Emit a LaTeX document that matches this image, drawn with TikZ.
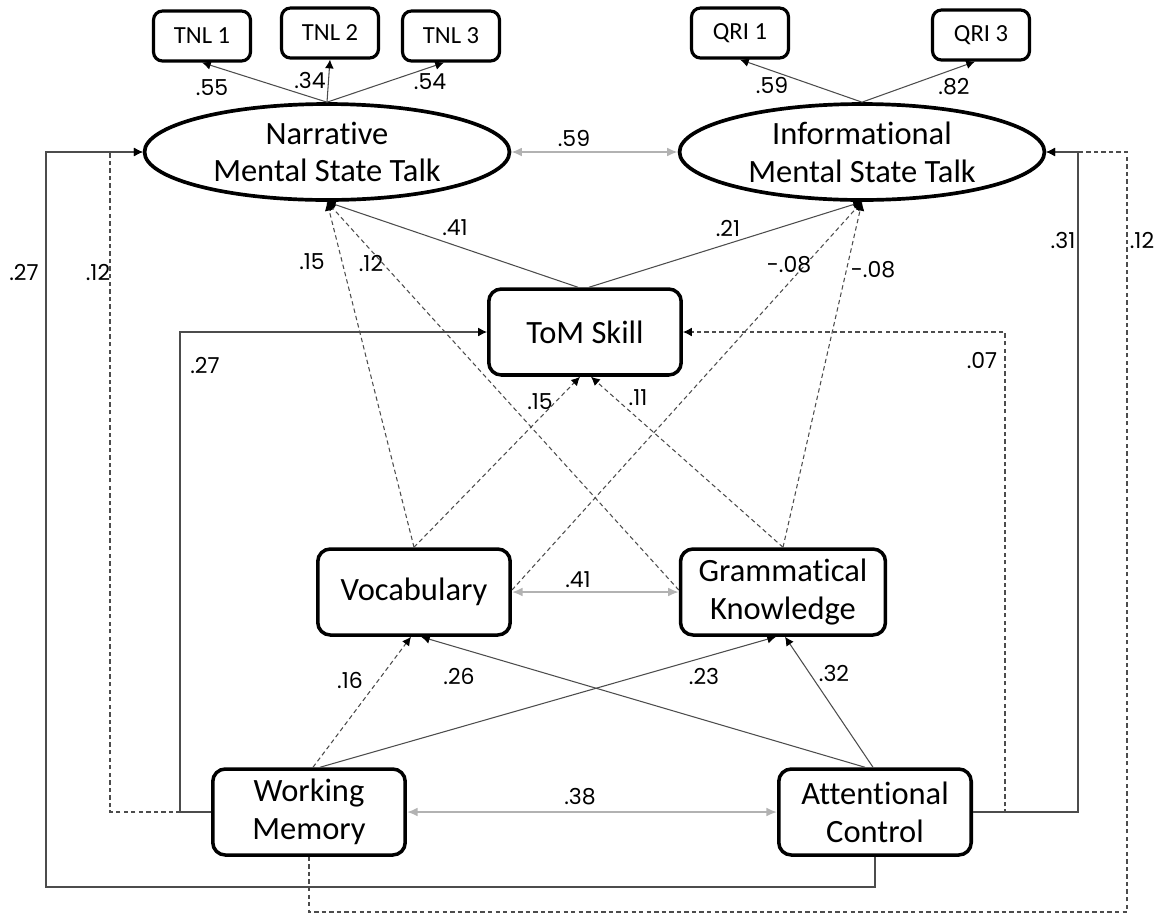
\documentclass[tikz,border=0pt]{standalone}
\usepackage{xcolor}
\usepackage{fontspec}
\setmainfont{Carlito}[Ligatures=NoCommon]
\newfontfamily\numfont{Poppins}
\usepackage{tikz}
\usetikzlibrary{shapes.geometric,arrows.meta}

\tikzset{
  latent/.style={draw, ellipse, line width=2.1pt, minimum width=7.3cm, minimum height=1.92cm, inner sep=0pt, align=center, font=\fontsize{18.5}{21.5}\selectfont},
  obsbox/.style={draw, rounded corners=0.25cm, line width=2pt, minimum width=3.85cm, minimum height=1.72cm, align=center, font=\fontsize{18.5}{21.5}\selectfont},
  itembox/.style={draw, rounded corners=0.18cm, line width=1.8pt, minimum width=1.94cm, minimum height=1.0cm, font=\fontsize{14}{16}\selectfont},
  coef/.style={font=\numfont\fontsize{12.5}{14}\selectfont, inner sep=1pt},
  solidpath/.style={draw=black!70, line width=0.6pt, -{Latex[length=5pt,width=5pt,color=black]}},
  dashpath/.style={solidpath, dash pattern=on 2.5pt off 1.8pt},
  covpath/.style={draw=black!30, line width=1pt, {Latex[length=6pt,width=5pt]}-{Latex[length=6pt,width=5pt]}}
}

\begin{document}
\begin{tikzpicture}[x=0.02cm, y=-0.02cm]
\useasboundingbox (0,0) rectangle (1176,914);

\node[itembox] (tnl1) at (202,36) {TNL 1};
\node[itembox] (tnl2) at (330,33) {TNL 2};
\node[itembox] (tnl3) at (451,36) {TNL 3};
\node[itembox] (qri1) at (740,33) {QRI 1};
\node[itembox] (qri3) at (981,35) {QRI 3};

\node[latent] (nmst) at (327,152) {Narrative\\Mental State Talk};
\node[latent] (imst) at (862,152) {Informational\\Mental State Talk};

\node[obsbox] (tom) at (585,332) {ToM Skill};
\node[obsbox] (voc) at (414,592) {Vocabulary};
\node[obsbox, minimum width=4.1cm] (gk) at (783,592) {Grammatical\\Knowledge};
\node[obsbox] (wm) at (309,812) {Working\\Memory};
\node[obsbox] (ac) at (875,812) {Attentional\\Control};

\coordinate (cornerL) at (46,887);
\coordinate (cornerD) at (110,152);
\coordinate (cornerT) at (180,332);
\coordinate (cornerR) at (1005,332);
\coordinate (cornerS) at (1078,152);
\coordinate (cornerB) at (1127,912);

% loadings
\draw[solidpath] (nmst.north) -- (tnl1.south);
\draw[solidpath] (nmst.north) -- (tnl2.south);
\draw[solidpath] (nmst.north) -- ([xshift=-0.14cm]tnl3.south);
\draw[solidpath] (imst.north) -- (qri1.south);
\draw[solidpath] (imst.north) -- ([xshift=-0.12cm]qri3.south);

% covariances
\draw[covpath] (nmst.east) -- (imst.west);
\draw[covpath] (voc.east) -- (gk.west);
\draw[covpath] (wm.east) -- (ac.west);

% paths to mental state talk
\draw[solidpath] ([xshift=-0.14cm]tom.north) -- (nmst.south);
\draw[solidpath] ([xshift=0.08cm]tom.north) -- (imst.south);
\draw[dashpath] (voc.north) -- (nmst.south);
\draw[dashpath] ([yshift=0.04cm]gk.west) -- (nmst.south);
\draw[dashpath] ([yshift=0.04cm]voc.east) -- (imst.south);
\draw[dashpath] (gk.north) -- (imst.south);

% paths to ToM
\draw[dashpath] (voc.north) -- ([xshift=-0.1cm]tom.south);
\draw[dashpath] (gk.north) -- ([xshift=0.12cm]tom.south);

% paths to language
\draw[dashpath] ([xshift=0.08cm]wm.north) -- ([xshift=-0.06cm]voc.south);
\draw[solidpath] ([xshift=0.22cm]wm.north) -- ([xshift=-0.14cm]gk.south);
\draw[solidpath] ([xshift=-0.2cm]ac.north) -- ([xshift=0.14cm]voc.south);
\draw[solidpath] ([xshift=-0.04cm]ac.north) -- ([xshift=0.04cm]gk.south);

% outer paths
\draw[solidpath] (ac.south) |- (cornerL) |- (nmst.west);
\draw[dashpath] (wm.west) -| (cornerD) -- (nmst.west);
\draw[solidpath] (wm.west) -| (cornerT) -- (tom.west);
\draw[dashpath] (ac.east) -| (cornerR) -- (tom.east);
\draw[solidpath] (ac.east) -| (cornerS) -- (imst.east);
\draw[dashpath] (wm.south) |- (cornerB) |- (imst.east);

% coefficients
\node[coef] (l55) at (212,88) {.55};
\node[coef] (l34) at (310,80) {.34};
\node[coef] (l54) at (430,82) {.54};
\node[coef] (l59a) at (772,85) {.59};
\node[coef] (l82) at (954,87) {.82};
\node[coef] (l59b) at (574,138) {.59};
\node[coef] (l41a) at (455,228) {.41};
\node[coef] (l21) at (728,228) {.21};
\node[coef] (l15a) at (312,262) {.15};
\node[coef] (l12a) at (371,263) {.12};
\node[coef] (l08a) at (789,265) {-.08};
\node[coef] (l08b) at (873,270) {-.08};
\node[coef] (l27a) at (24,272) {.27};
\node[coef] (l12b) at (98,272) {.12};
\node[coef] (l31) at (1063,240) {.31};
\node[coef] (l12c) at (1142,240) {.12};
\node[coef] (l27b) at (205,365) {.27};
\node[coef] (l07) at (982,360) {.07};
\node[coef] (l15b) at (540,402) {.15};
\node[coef] (l11) at (638,398) {.11};
\node[coef] (l41b) at (578,580) {.41};
\node[coef] (l16) at (350,680) {.16};
\node[coef] (l26) at (459,676) {.26};
\node[coef] (l23) at (704,676) {.23};
\node[coef] (l32) at (834,673) {.32};
\node[coef] (l38) at (580,797) {.38};
\end{tikzpicture}
\end{document}
